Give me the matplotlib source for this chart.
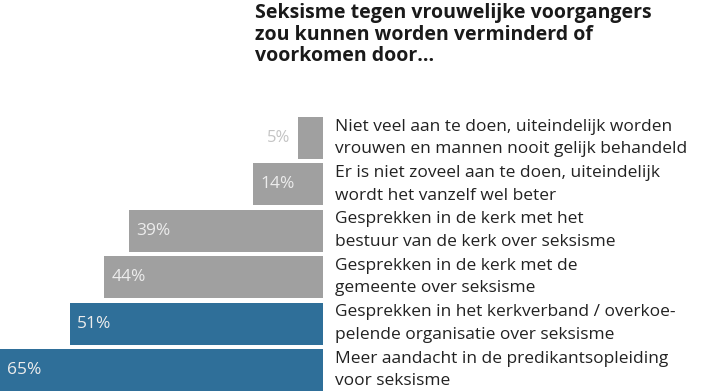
import matplotlib.pyplot as plt
from matplotlib.transforms import offset_copy

plt.rcParams['font.family'] = ['Open Sans', 'DejaVu Sans']

antwoorden = [
    "Niet veel aan te doen, uiteindelijk worden\nvrouwen en mannen nooit gelijk behandeld",
    "Er is niet zoveel aan te doen, uiteindelijk\nwordt het vanzelf wel beter",
    "Gesprekken in de kerk met het\nbestuur van de kerk over seksisme",
    "Gesprekken in de kerk met de\ngemeente over seksisme",
    "Gesprekken in het kerkverband / overkoe-\npelende organisatie over seksisme",
    "Meer aandacht in de predikantsopleiding\nvoor seksisme",
]
percentages = [5, 14, 39, 44, 51, 65]
kleuren = ["#a0a0a0", "#a0a0a0", "#a0a0a0", "#a0a0a0", "#2f6f99", "#2f6f99"]
titel = "Seksisme tegen vrouwelijke voorgangers\nzou kunnen worden verminderd of\nvoorkomen door..."

fig = plt.figure(figsize=(7.28, 3.91), dpi=100)
ax = fig.add_axes([0, 0, 323 / 728, 1])
ax.axis("off")

pos = list(range(len(percentages)))
ax.barh(pos, percentages, height=0.905, color=kleuren)
ax.set_xlim(65, 0)
ax.set_ylim(5.453, -2.974)

for i, (p, tekst) in enumerate(zip(percentages, antwoorden)):
    if p < 10:
        tr = offset_copy(ax.transData, fig=fig, x=-8, y=0, units="dots")
        ax.text(p, i, f"{p}%", transform=tr, ha="right", va="center",
                fontsize=12, color="#c4c4c4")
    else:
        tr = offset_copy(ax.transData, fig=fig, x=7, y=0, units="dots")
        ax.text(p, i, f"{p}%", transform=tr, ha="left", va="center",
                fontsize=12.5, color="#ececec")
    ax.text(1.037, i, tekst, transform=ax.get_yaxis_transform(), ha="left",
            va="center", fontsize=12.5, color="#222222", linespacing=1.55,
            clip_on=False)

fig.text(255 / 728, 1 - 3 / 391, titel, ha="left", va="top", fontsize=14,
         fontweight="bold", color="#1a1a1a", linespacing=1.1)

fig.savefig("out.png", dpi=100)
